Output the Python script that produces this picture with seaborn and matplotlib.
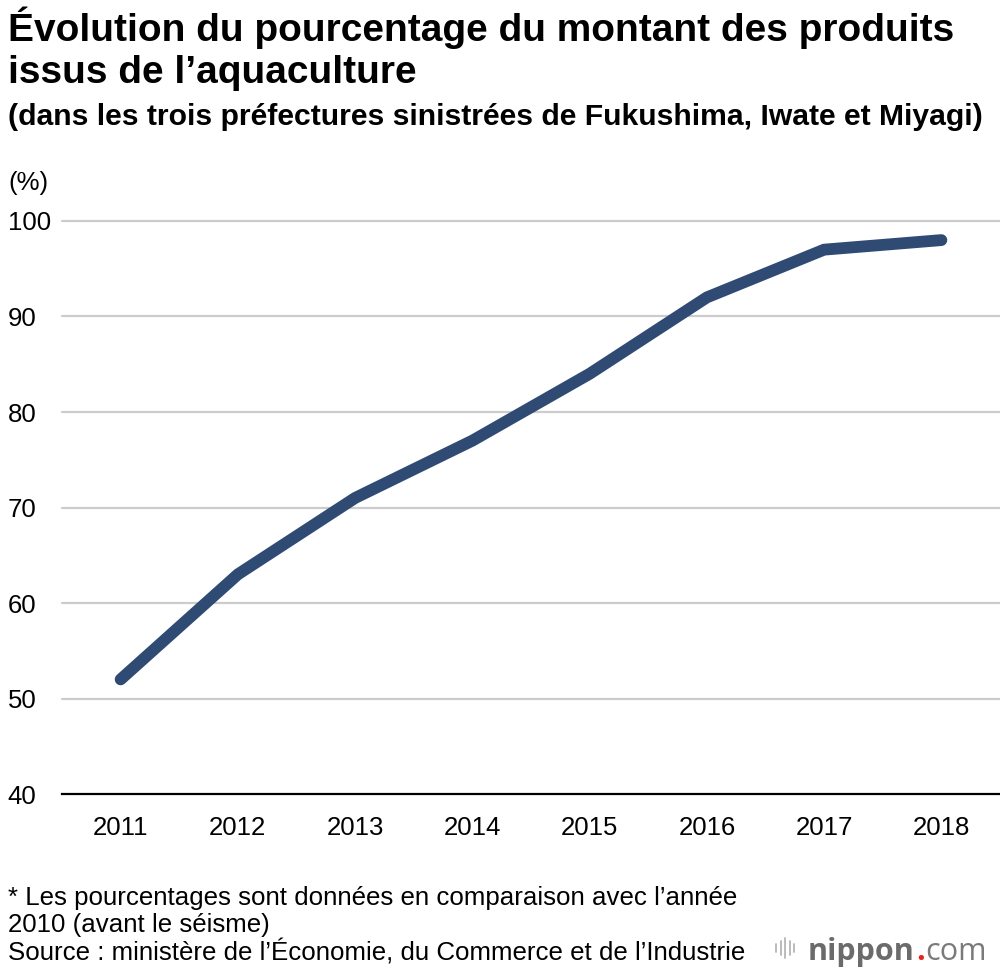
import pandas as pd
import seaborn as sns
import matplotlib
matplotlib.use('Agg')
import matplotlib.pyplot as plt

years = [2011, 2012, 2013, 2014, 2015, 2016, 2017, 2018]
pourcentage = [52, 63, 71, 77, 84, 92, 97, 98]
yticks = [40, 50, 60, 70, 80, 90, 100]

data = pd.DataFrame({'annee': years, 'pct': pourcentage})

sns.set_theme(style='white')
plt.rcParams['font.family'] = ['Liberation Sans', 'DejaVu Sans']
plt.rcParams['text.color'] = 'black'
plt.rcParams['xtick.color'] = 'black'
plt.rcParams['ytick.color'] = 'black'

fig = plt.figure(figsize=(10, 9.72), dpi=100)
ax = fig.add_axes([0.062, 1 - 794 / 972, 0.938, (794 - 221) / 972])

for y in yticks[1:]:
    ax.axhline(y, color='#cccccc', lw=1.6, zorder=1, clip_on=False)

sns.lineplot(x='annee', y='pct', data=data, ax=ax, color='#2f4b74', lw=8.5,
             solid_capstyle='round', solid_joinstyle='miter', zorder=3, clip_on=False)

ax.set_xlim(2010.5, 2018.5)
ax.set_ylim(40, 100)
ax.set_xticks(years)
ax.set_xticklabels([str(y) for y in years], fontsize=18.5)
ax.set_yticks(yticks)
ax.set_yticklabels([str(y) for y in yticks], fontsize=18.5, ha='left')
ax.tick_params(axis='y', length=0, pad=39)
ax.tick_params(axis='x', length=0, pad=16)
ax.set_xlabel('')
ax.set_ylabel('')
for s in ['top', 'right', 'left']:
    ax.spines[s].set_visible(False)
ax.spines['bottom'].set_color('black')
ax.spines['bottom'].set_linewidth(1.6)

fig.text(0.008, 1 - 41 / 972, "Évolution du pourcentage du montant des produits",
         fontsize=28, fontweight='bold', ha='left', va='baseline')
fig.text(0.008, 1 - 83 / 972, "issus de l’aquaculture",
         fontsize=28, fontweight='bold', ha='left', va='baseline')
fig.text(0.008, 1 - 125 / 972, "(dans les trois préfectures sinistrées de Fukushima, Iwate et Miyagi)",
         fontsize=21.7, fontweight='bold', ha='left', va='baseline')
fig.text(0.008, 1 - 190 / 972, "(%)", fontsize=18.5, ha='left', va='baseline')

fig.text(0.008, 1 - 905 / 972, "* Les pourcentages sont données en comparaison avec l’année",
         fontsize=18.6, ha='left', va='baseline')
fig.text(0.008, 1 - 932 / 972, "2010 (avant le séisme)",
         fontsize=18.6, ha='left', va='baseline')
fig.text(0.008, 1 - 960 / 972, "Source : ministère de l’Économie, du Commerce et de l’Industrie",
         fontsize=18.6, ha='left', va='baseline')

# logo nippon.com
r = fig.canvas.get_renderer()
x0 = 808 / 1000
for txt, col, w in [("nippon", '#6b6b6b', 'bold'), (".", '#e8231f', 'bold'), ("com", '#7a7a7a', 'normal')]:
    t = fig.text(x0, 1 - 960 / 972, txt, fontsize=22, fontweight=w, color=col,
                 family=['Open Sans', 'DejaVu Sans'], ha='left', va='baseline')
    x0 += t.get_window_extent(r).width / 1000 + 0.001
for i, h in enumerate([8, 14, 20, 14, 8]):
    fig.add_artist(plt.Line2D([0.776 + i * 0.0045] * 2,
                              [1 - (948 + h / 2) / 972, 1 - (948 - h / 2) / 972],
                              color='#b5b5b5', lw=1.3))

plt.savefig('out.png', dpi=100)
